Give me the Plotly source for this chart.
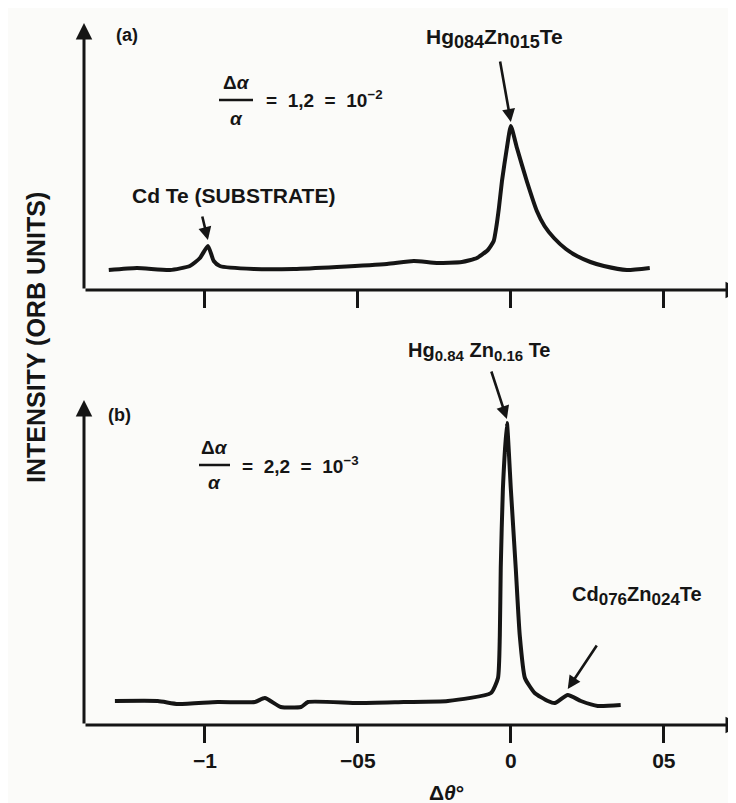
import plotly.graph_objects as go

# ---------------- data ----------------
# panel (a): angle offset (deg) and intensity (arb. units)
theta_a = [-1.314, -1.222, -1.114, -1.049, -1.016, -0.99, -0.971, -0.951, -0.840,
           -0.709, -0.569, -0.405, -0.317, -0.242, -0.160, -0.111, -0.075, -0.056,
           -0.048, -0.039, -0.029, -0.013, 0.0, 0.020, 0.052, 0.085, 0.110, 0.141,
           0.180, 0.216, 0.260, 0.304, 0.379, 0.454]
int_a = [20, 22, 20, 24, 32, 44, 29, 24, 21,
         21, 23, 26, 29, 27, 28, 32, 40, 49,
         62, 82, 109, 142, 164, 142, 109, 79, 64, 52,
         41, 34, 28, 24, 20, 22]

# panel (b)
theta_b = [-1.294, -1.154, -1.088, -0.958, -0.837, -0.804, -0.752, -0.686, -0.663,
           -0.50, -0.35, -0.206, -0.065, -0.042, -0.036, -0.033, -0.026, -0.013,
           0.0, 0.016, 0.029, 0.046, 0.078, 0.121, 0.144, 0.186, 0.229, 0.284, 0.359]
int_b = [24, 24, 21, 23, 23, 27, 18, 18, 23,
         22, 23, 24, 32, 47, 90, 157, 236, 302,
         236, 157, 90, 47, 32, 24, 22, 30, 24, 19, 20]

tick_vals = [-1, -0.5, 0, 0.5]
tick_text = ["\u22121", "\u221205", "0", "05"]

X_RANGE = [-1.395, 0.762]
YA_RANGE = [0, 267]
YB_RANGE = [0, 325]

# ---------------- figure ----------------
W, H = 736, 803
ML, MR, MT, MB = 76, 0, 15, 86
PW, PH = W - ML - MR, H - MT - MB

def px(x):
    return (x - ML) / PW

def py(y):
    return (H - MB - y) / PH

FONT = "Liberation Sans"
INK = "#151515"
BG = "#fbfbf9"

fig = go.Figure()
fig.add_trace(go.Scatter(x=theta_a, y=int_a, mode="lines", xaxis="x", yaxis="y",
                         line=dict(color=INK, width=4, shape="spline", smoothing=0.5),
                         showlegend=False, hoverinfo="skip"))
fig.add_trace(go.Scatter(x=theta_b, y=int_b, mode="lines", xaxis="x2", yaxis="y2",
                         line=dict(color=INK, width=4, shape="spline", smoothing=0.5),
                         showlegend=False, hoverinfo="skip"))

common_x = dict(range=X_RANGE, showgrid=False, zeroline=False, showline=False,
                ticks="outside", ticklen=17, tickwidth=3, tickcolor=INK,
                tickvals=tick_vals, fixedrange=True)
common_y = dict(showgrid=False, zeroline=False, showline=False, showticklabels=False,
                ticks="", fixedrange=True)

fig.update_layout(
    width=W, height=H,
    margin=dict(l=ML, r=MR, t=MT, b=MB),
    paper_bgcolor=BG, plot_bgcolor=BG,
    font=dict(family=FONT, color=INK),
    xaxis=dict(**common_x, anchor="y", domain=[0, 1], showticklabels=False),
    yaxis=dict(**common_y, range=YA_RANGE, domain=[py(282), 1], anchor="x"),
    xaxis2=dict(**common_x, anchor="y2", domain=[0, 1], ticktext=tick_text,
                tickfont=dict(family=FONT, size=21, weight="bold", color=INK)),
    yaxis2=dict(**common_y, range=YB_RANGE, domain=[0, py(392)], anchor="x2"),
)

anns = []

# axis arrows (paper-referenced so they are never hidden)
for base, top in ((282, 15), (717, 392)):
    anns.append(dict(xref="paper", yref="paper", x=px(ML), y=py(top),
                     ax=0, ay=base - top, text="", showarrow=True, arrowhead=2,
                     arrowsize=1.1, arrowwidth=3, arrowcolor=INK, standoff=0))
    anns.append(dict(xref="paper", yref="paper", x=px(734), y=py(base),
                     ax=-(734 - ML), ay=0, text="", showarrow=True, arrowhead=2,
                     arrowsize=1.1, arrowwidth=3, arrowcolor=INK, standoff=0))

def txt(s, x, y, size, xanchor="center", angle=0):
    anns.append(dict(xref="paper", yref="paper", x=px(x), y=py(y), text=s,
                     showarrow=False, xanchor=xanchor, yanchor="middle",
                     textangle=angle,
                     font=dict(family=FONT, size=size, color=INK, weight="bold")))

def pointer(xr, yr, x, y, ax, ay):
    anns.append(dict(xref=xr, yref=yr, x=x, y=y, ax=ax, ay=ay, text="",
                     showarrow=True, arrowhead=2, arrowsize=1.0, arrowwidth=2.6,
                     arrowcolor=INK, standoff=0))

def sub(s, size):
    return "<sub><span style='font-size:%dpx'>%s</span></sub>" % (size, s)

# panel (a)
txt("(a)", 119, 27, 18)
txt("Hg" + sub("084", 18) + "Zn" + sub("015", 18) + "Te", 416, 30, 21, xanchor="left")
pointer("x", "y", 0.0, 168, -11, -62)
txt("\u0394<i>\u03b1</i>", 228, 74, 19)
txt("<i>\u03b1</i>", 228, 110, 19)
txt("=  1,2  =  10<sup>\u22122</sup>", 256, 91, 19, xanchor="left")
txt("Cd Te (SUBSTRATE)", 122, 187, 21, xanchor="left")
pointer("x", "y", -0.99, 50, -6, -25)

# panel (b)
txt("(b)", 111, 407, 18)
txt("Hg" + sub("0.84", 15) + " Zn" + sub("0.16", 15) + " Te", 398, 343, 20, xanchor="left")
pointer("x2", "y2", -0.013, 306, -16, -49)
txt("\u0394<i>\u03b1</i>", 206, 439, 19)
txt("<i>\u03b1</i>", 206, 474, 19)
txt("=  2,2  =  10<sup>\u22123</sup>", 232, 457, 19, xanchor="left")
txt("Cd" + sub("076", 17) + "Zn" + sub("024", 17) + "Te", 562, 588, 20, xanchor="left")
pointer("x2", "y2", 0.186, 36, 30, -45)

# axis titles
txt("\u0394<i>\u03b8</i>\u00b0", 438, 784, 21)
txt("INTENSITY (ORB UNITS)", 28, 330, 25, angle=-90)

fig.update_layout(annotations=anns)

# fraction bars
fig.update_layout(shapes=[
    dict(type="line", xref="paper", yref="paper", x0=px(211), x1=px(245),
         y0=py(92), y1=py(92), line=dict(color=INK, width=2.5)),
    dict(type="line", xref="paper", yref="paper", x0=px(191), x1=px(222),
         y0=py(457), y1=py(457), line=dict(color=INK, width=2.5)),
])

fig.write_html("out.html")
